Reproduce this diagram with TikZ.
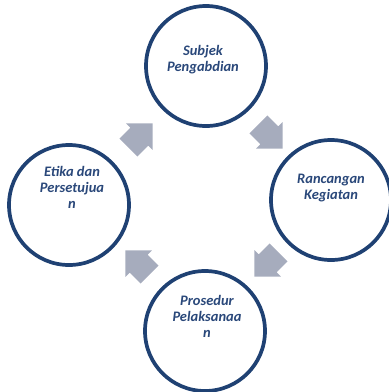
\documentclass[tikz,border=0pt]{standalone}
\usepackage{fontspec}
\setmainfont{Carlito}
\usetikzlibrary{shapes.arrows}
\definecolor{ringblue}{RGB}{31,65,115}
\definecolor{textblue}{RGB}{42,72,122}
\definecolor{arrowgray}{RGB}{166,172,189}

\begin{document}
\begin{tikzpicture}[x=1pt,y=-1pt,
  ring/.style={draw=ringblue, line width=3.7pt, circle, minimum size=120pt, fill=white},
  lbl/.style={text=textblue, font=\fontsize{14.5}{16}\selectfont\bfseries\itshape, align=center, inner sep=0pt},
  cyc/.style={single arrow, fill=arrowgray, draw=none, minimum height=34pt,
    single arrow head extend=6pt, single arrow tip angle=90, single arrow head indent=0pt,
    inner xsep=0pt, inner ysep=12.5pt}]
\useasboundingbox (0,0) rectangle (389,392);
% the four stages
\node[ring] (sub) at (206,66) {};
\node[ring] (ran) at (331,200) {};
\node[ring] (pro) at (205,331) {};
\node[ring] (eti) at (69,205) {};
\node[lbl] (subt) at (203,60) {Subjek\\Pengabdian};
\node[lbl] (rant) at (331,188) {Rancangan\\Kegiatan};
\node[lbl] (prot) at (207,316) {Prosedur\\Pelaksanaa\\n};
\node[lbl] (etit) at (72,187) {Etika dan\\Persetujua\\n};
% arrows, clockwise
\node[cyc, rotate=-45] (a1) at (266,132) {};
\node[cyc, rotate=-135] (a2) at (271,260) {};
\node[cyc, rotate=135] (a3) at (142,267) {};
\node[cyc, rotate=45] (a4) at (136,140) {};
\end{tikzpicture}
\end{document}
